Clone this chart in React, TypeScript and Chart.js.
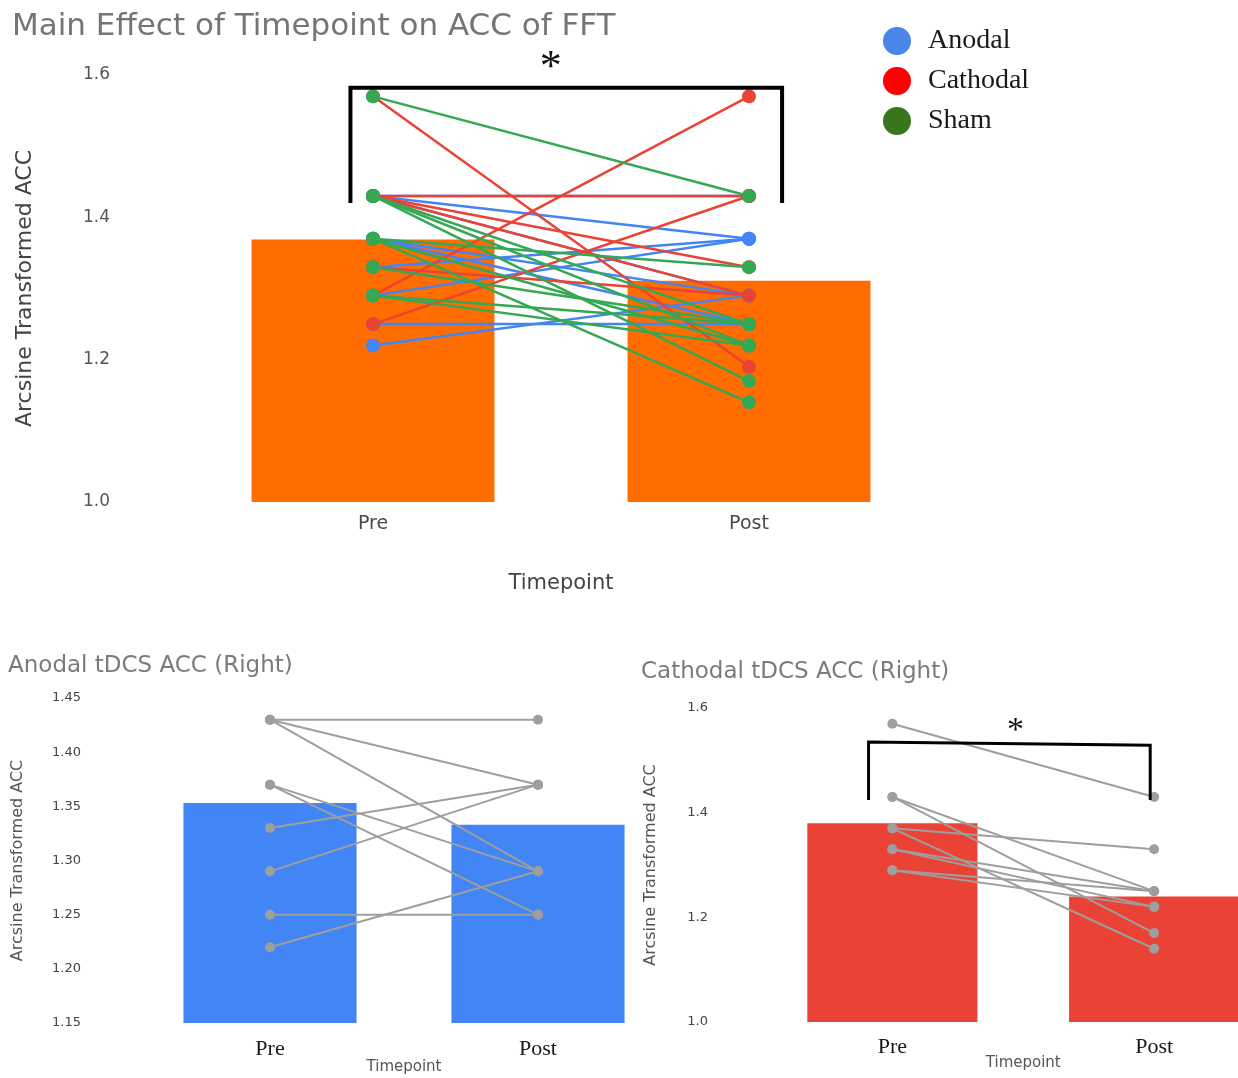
import React, { useEffect, useRef } from 'react';
import { Chart, registerables } from 'chart.js';

Chart.register(...registerables);

// ---------- data ----------
const timepoints = ['Pre', 'Post'];

// Main chart: bar means (all groups)
const mainBarMeans = [1.369, 1.311];

// Main chart individual subjects
const anodalPre = [1.43, 1.43, 1.43, 1.37, 1.37, 1.33, 1.29, 1.25, 1.22];
const anodalPost = [1.43, 1.37, 1.29, 1.29, 1.25, 1.37, 1.37, 1.25, 1.29];
const cathodalPre = [1.57, 1.29, 1.25, 1.43, 1.43, 1.43, 1.33];
const cathodalPost = [1.19, 1.57, 1.43, 1.43, 1.33, 1.29, 1.29];
const shamPre = [1.57, 1.43, 1.43, 1.43, 1.37, 1.37, 1.37, 1.33, 1.29, 1.29];
const shamPost = [1.43, 1.25, 1.22, 1.17, 1.33, 1.14, 1.22, 1.25, 1.25, 1.22];

const legendLabels = ['Anodal', 'Cathodal', 'Sham'];
const legendColors = ['#4a86e8', '#ff0000', '#38761d'];

// Anodal subplot
const anodalBarMeans = [1.353, 1.333];
const anodalSubPre = [1.43, 1.43, 1.43, 1.37, 1.37, 1.33, 1.29, 1.25, 1.22];
const anodalSubPost = [1.43, 1.37, 1.29, 1.29, 1.25, 1.37, 1.37, 1.25, 1.29];

// Cathodal subplot
const cathodalBarMeans = [1.38, 1.24];
const cathodalSubPre = [1.57, 1.43, 1.43, 1.37, 1.37, 1.33, 1.33, 1.29, 1.29];
const cathodalSubPost = [1.43, 1.25, 1.17, 1.33, 1.14, 1.25, 1.22, 1.25, 1.22];

// ---------- plugins ----------
const dotLegendPlugin = {
  id: 'dotLegend',
  afterDraw(chart: any, _args: any, o: any) {
    if (!o || !o.labels) return;
    const ctx = chart.ctx;
    ctx.save();
    o.labels.forEach((label: string, i: number) => {
      const y = o.y + i * o.gap;
      ctx.beginPath();
      ctx.fillStyle = o.colors[i];
      ctx.arc(o.x, y, o.r, 0, Math.PI * 2);
      ctx.fill();
      ctx.fillStyle = o.color;
      ctx.font = o.font;
      ctx.textAlign = 'left';
      ctx.textBaseline = 'middle';
      ctx.fillText(label, o.x + o.textOffset, y);
    });
    ctx.restore();
  },
};

const bracketPlugin = {
  id: 'sigBracket',
  afterDatasetsDraw(chart: any, _args: any, o: any) {
    if (!o || o.left === undefined) return;
    const { x, y } = chart.scales;
    const ctx = chart.ctx;
    const xl = x.getPixelForValue(o.left);
    const xr = x.getPixelForValue(o.right);
    const ytl = y.getPixelForValue(o.topLeft);
    const ytr = y.getPixelForValue(o.topRight);
    const yb = y.getPixelForValue(o.bottom);
    ctx.save();
    ctx.strokeStyle = '#000';
    ctx.lineWidth = o.lineWidth;
    ctx.lineJoin = 'miter';
    ctx.beginPath();
    ctx.moveTo(xl, yb);
    ctx.lineTo(xl, ytl);
    ctx.lineTo(xr, ytr);
    ctx.lineTo(xr, yb);
    ctx.stroke();
    const sx = x.getPixelForValue(o.starX);
    const sy = y.getPixelForValue(o.starY);
    ctx.font = o.starFont;
    ctx.fillStyle = '#111';
    ctx.textAlign = 'center';
    ctx.textBaseline = 'alphabetic';
    const m = ctx.measureText('*');
    const asc = m.actualBoundingBoxAscent || 0;
    const desc = m.actualBoundingBoxDescent || 0;
    ctx.fillText('*', sx, sy + (asc - desc) / 2);
    ctx.restore();
  },
};

const SANS = "'DejaVu Sans', 'Liberation Sans', Arial, sans-serif";
const SERIF = "'Liberation Serif', 'Times New Roman', serif";

function subjectLines(pre: number[], post: number[], color: string, order: number, radius: number, width: number) {
  return pre.map((p, i) => ({
    type: 'line' as const,
    data: [p, post[i]],
    borderColor: color,
    backgroundColor: color,
    pointBackgroundColor: color,
    pointBorderColor: color,
    pointBorderWidth: 0,
    pointRadius: radius,
    borderWidth: width,
    tension: 0,
    order,
    clip: false as any,
  }));
}

function buildConfig(p: any): any {
  return {
    type: 'bar',
    data: {
      labels: timepoints,
      datasets: [
        {
          type: 'bar',
          data: p.bars,
          backgroundColor: p.barColor,
          borderWidth: 0,
          barPercentage: p.barPct,
          categoryPercentage: 1,
          order: 10,
        },
        ...p.lines,
      ],
    },
    options: {
      responsive: false,
      animation: false,
      layout: { padding: p.layoutPadding },
      plugins: {
        legend: { display: false },
        tooltip: { enabled: false },
        title: {
          display: true,
          text: p.title,
          align: 'start',
          color: p.titleColor,
          font: { family: SANS, size: p.titleSize, weight: 'normal' },
          padding: p.titlePadding,
        },
        dotLegend: p.legend || {},
        sigBracket: p.bracket || {},
      },
      scales: {
        x: {
          grid: { display: false, drawTicks: false },
          border: { display: false },
          ticks: { color: p.xTickColor, font: p.xTickFont, padding: p.xTickPadding },
          title: {
            display: true,
            text: 'Timepoint',
            color: p.axisTitleColor,
            font: { family: SANS, size: p.xTitleSize },
            padding: { top: 0, bottom: p.xTitlePadBottom },
          },
          afterFit: (s: any) => {
            s.height = p.xHeight;
          },
        },
        y: {
          min: p.yMin,
          max: p.yMax,
          grid: { display: false, drawTicks: false },
          border: { display: false },
          ticks: {
            stepSize: p.yStep,
            color: p.yTickColor,
            font: { family: SANS, size: p.yTickSize },
            padding: p.yTickPadding,
            callback: (v: any) => Number(v).toFixed(p.yDecimals),
          },
          title: {
            display: true,
            text: 'Arcsine Transformed ACC',
            color: p.axisTitleColor,
            font: { family: SANS, size: p.yTitleSize },
            padding: { top: 0, bottom: 0 },
          },
          afterFit: (s: any) => {
            s.width = p.yWidth;
            s.paddingTop = 0;
            s.paddingBottom = 0;
          },
        },
      },
    },
    plugins: [dotLegendPlugin, bracketPlugin],
  };
}

export default function App() {
  const mainRef = useRef<HTMLCanvasElement>(null);
  const anRef = useRef<HTMLCanvasElement>(null);
  const caRef = useRef<HTMLCanvasElement>(null);

  useEffect(() => {
    const charts: Chart[] = [];

    const mainLines = [
      ...subjectLines(shamPre, shamPost, '#34A853', 1, 7, 2.5),
      ...subjectLines(cathodalPre, cathodalPost, '#EA4335', 2, 7, 2.5),
      ...subjectLines(anodalPre, anodalPost, '#4285F4', 3, 7, 2.5),
    ];

    charts.push(
      new Chart(
        mainRef.current!,
        buildConfig({
          bars: mainBarMeans,
          barColor: '#FF6D01',
          barPct: 0.646,
          lines: mainLines,
          layoutPadding: { left: 12, right: 301, top: 0, bottom: 0 },
          title: 'Main Effect of Timepoint on ACC of FFT',
          titleColor: '#757575',
          titleSize: 31,
          titlePadding: { top: 8.5, bottom: 29.3 },
          xTickColor: '#4a4a4a',
          xTickFont: { family: SANS, size: 19 },
          xTickPadding: 11,
          axisTitleColor: '#444',
          xTitleSize: 21,
          xTitlePadBottom: 14,
          xHeight: 108,
          yMin: 1.0,
          yMax: 1.6,
          yStep: 0.2,
          yDecimals: 1,
          yTickColor: '#555',
          yTickSize: 17,
          yTickPadding: 75,
          yTitleSize: 22,
          yWidth: 173,
          legend: {
            labels: legendLabels,
            colors: legendColors,
            x: 897,
            y: 41,
            gap: 40,
            r: 14,
            textOffset: 31,
            font: `28px ${SERIF}`,
            color: '#1a1a1a',
          },
          bracket: {
            left: -0.06,
            right: 1.088,
            topLeft: 1.582,
            topRight: 1.582,
            bottom: 1.42,
            lineWidth: 4,
            starX: 0.473,
            starY: 1.622,
            starFont: `44px ${SERIF}`,
          },
        })
      )
    );

    charts.push(
      new Chart(
        anRef.current!,
        buildConfig({
          bars: anodalBarMeans,
          barColor: '#4285F4',
          barPct: 0.646,
          lines: subjectLines(anodalSubPre, anodalSubPost, '#9e9e9e', 1, 5, 2),
          layoutPadding: { left: 8, right: 28, top: 0, bottom: 0 },
          title: 'Anodal tDCS ACC (Right)',
          titleColor: '#7b7b7b',
          titleSize: 23,
          titlePadding: { top: 12, bottom: 18.4 },
          xTickColor: '#1a1a1a',
          xTickFont: { family: SERIF, size: 22 },
          xTickPadding: 12.8,
          axisTitleColor: '#555',
          xTitleSize: 15,
          xTitlePadBottom: 2,
          xHeight: 55,
          yMin: 1.15,
          yMax: 1.45,
          yStep: 0.05,
          yDecimals: 2,
          yTickColor: '#444',
          yTickSize: 13,
          yTickPadding: 55,
          yTitleSize: 16,
          yWidth: 128,
        })
      )
    );

    charts.push(
      new Chart(
        caRef.current!,
        buildConfig({
          bars: cathodalBarMeans,
          barColor: '#EA4335',
          barPct: 0.65,
          lines: subjectLines(cathodalSubPre, cathodalSubPost, '#9e9e9e', 1, 5, 2),
          layoutPadding: { left: 11, right: 2.5, top: 0, bottom: 0 },
          title: 'Cathodal tDCS ACC (Right)',
          titleColor: '#7b7b7b',
          titleSize: 23,
          titlePadding: { top: 18, bottom: 22.4 },
          xTickColor: '#1a1a1a',
          xTickFont: { family: SERIF, size: 22 },
          xTickPadding: 11.8,
          axisTitleColor: '#555',
          xTitleSize: 15,
          xTitlePadBottom: 6,
          xHeight: 56,
          yMin: 1.0,
          yMax: 1.6,
          yStep: 0.2,
          yDecimals: 1,
          yTickColor: '#444',
          yTickSize: 13,
          yTickPadding: 53.5,
          yTitleSize: 16,
          yWidth: 120.5,
          bracket: {
            left: -0.091,
            right: 0.985,
            topLeft: 1.535,
            topRight: 1.529,
            bottom: 1.424,
            lineWidth: 3,
            starX: 0.47,
            starY: 1.569,
            starFont: `34px ${SERIF}`,
          },
        })
      )
    );

    return () => {
      charts.forEach((c) => c.destroy());
    };
  }, []);

  return (
    <div
      style={{
        position: 'absolute',
        left: 0,
        top: 0,
        width: 1238,
        height: 1078,
        overflow: 'hidden',
        background: '#fff',
      }}
    >
      <canvas ref={mainRef} width={1238} height={610} style={{ position: 'absolute', left: 0, top: 0 }} />
      <canvas ref={anRef} width={700} height={438} style={{ position: 'absolute', left: 0, top: 640 }} />
      <canvas ref={caRef} width={660} height={438} style={{ position: 'absolute', left: 630, top: 640 }} />
    </div>
  );
}
